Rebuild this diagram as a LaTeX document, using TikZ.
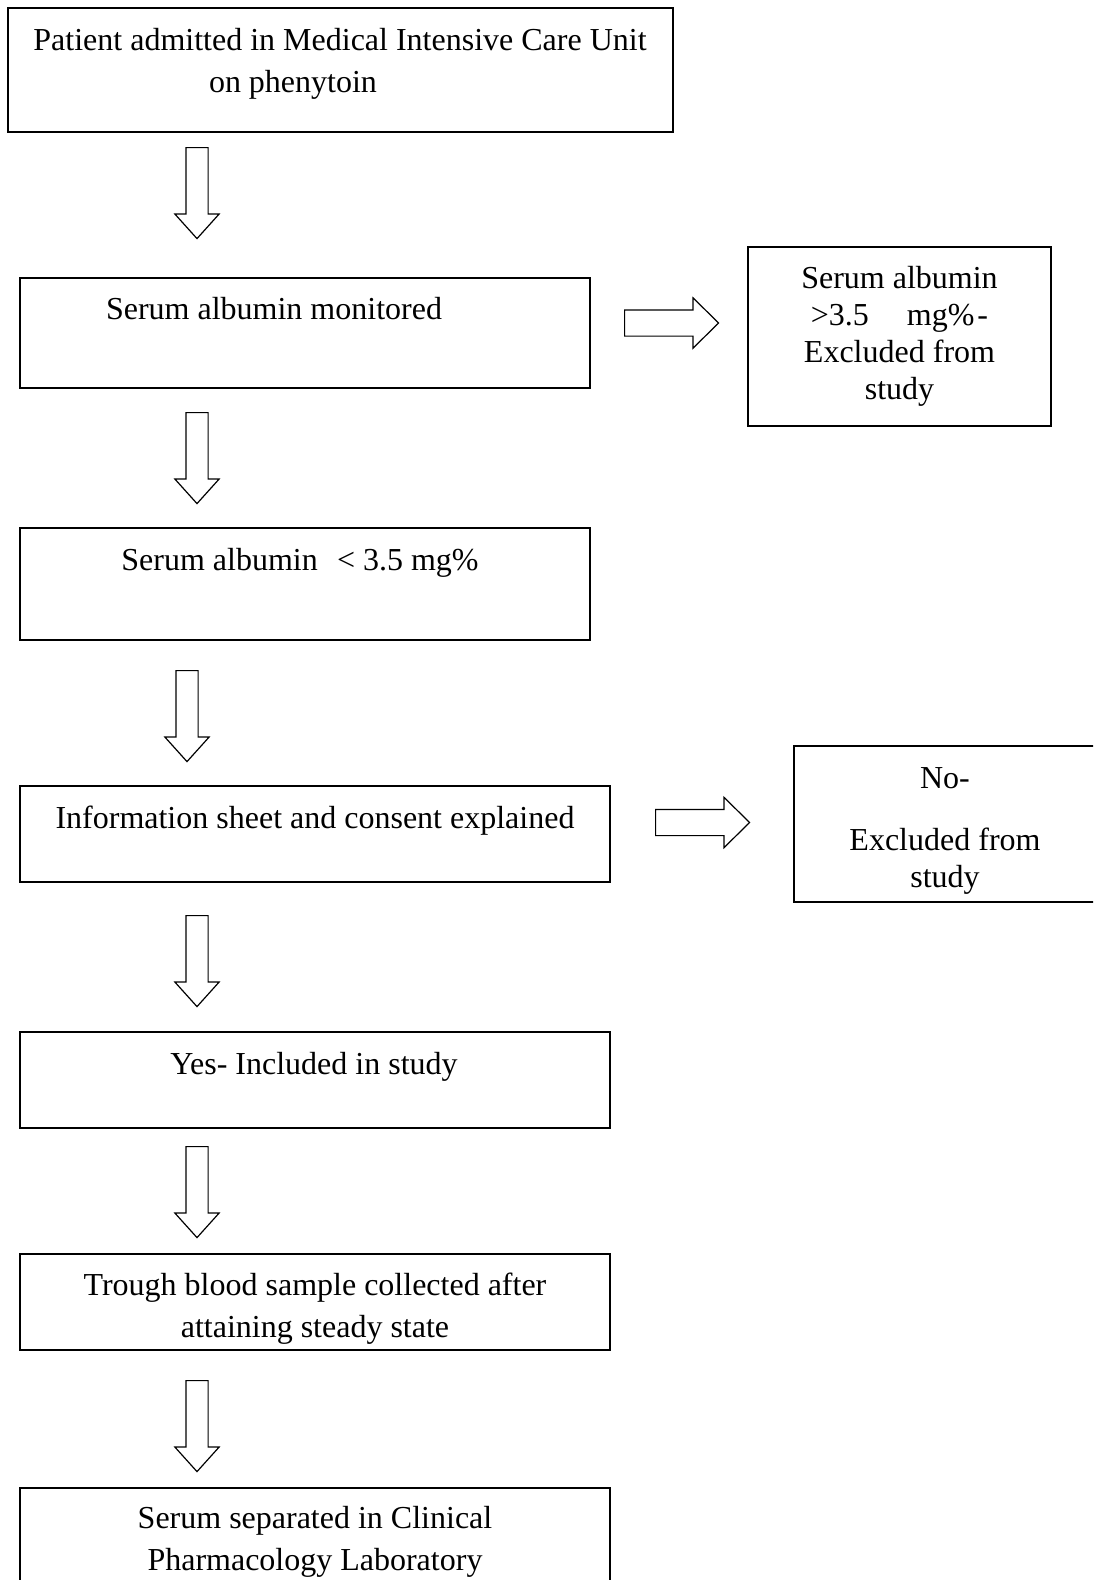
\documentclass[tikz,border=0pt]{standalone}
\usepackage{fontspec}
\setmainfont{Liberation Serif}
\usetikzlibrary{shapes.arrows}

\tikzset{
  stage/.style={draw, line width=1.5pt, rectangle, inner sep=0pt},
  caption/.style={font=\fontsize{32}{42}\selectfont, align=center, inner sep=0pt, anchor=base},
  tight/.style={font=\fontsize{32}{37}\selectfont},
  downarrow/.style={draw, line width=1.2pt, single arrow, shape border rotate=270, inner sep=10.5pt,
    minimum height=91pt, single arrow head extend=11pt, single arrow tip angle=84, anchor=tail},
  sidearrow/.style={draw, line width=1.2pt, single arrow, inner sep=12.5pt,
    minimum height=94pt, single arrow head extend=12pt, single arrow tip angle=89, anchor=tail},
}

\begin{document}
\begin{tikzpicture}[x=1pt,y=-1pt]
  \useasboundingbox (0,0) rectangle (1093,1580);
  \clip (0,0) rectangle (1093,1580);
  % boxes
  \node[stage, minimum width=665pt, minimum height=124pt] (admit) at (340.5,70) {};
  \node[stage, minimum width=570pt, minimum height=110pt] (monitor) at (305,333) {};
  \node[stage, minimum width=303pt, minimum height=179pt] (high) at (899.5,336.5) {};
  \node[stage, minimum width=570pt, minimum height=112pt] (low) at (305,584) {};
  \node[stage, minimum width=590pt, minimum height=96pt] (consent) at (315,834) {};
  \node[stage, minimum width=303pt, minimum height=156pt] (refuse) at (945.5,824) {};
  \node[stage, minimum width=590pt, minimum height=96pt] (include) at (315,1080) {};
  \node[stage, minimum width=590pt, minimum height=96pt] (sample) at (315,1302) {};
  \node[stage, minimum width=590pt, minimum height=112pt] (serum) at (315,1544) {};
  % texts (base = baseline of the last line)
  \node[caption] (admit-t) at (340,92) {Patient admitted in Medical Intensive Care Unit\\on phenytoin\hspace*{94pt}};
  \node[caption] (monitor-t) at (274,319) {Serum albumin monitored};
  \node[caption, tight] (high-t) at (899.5,399) {Serum albumin\\>3.5\hspace{38pt}mg\%\kern3pt-\\Excluded from\\study};
  \node[caption] (low-t) at (300,570) {Serum albumin\hspace{0.6em}< 3.5 mg\%};
  \node[caption] (consent-t) at (315,828) {Information sheet and consent explained};
  \node[caption, tight] (refuse-t) at (945,887) {No-\\[25pt]Excluded from\\study};
  \node[caption] (include-t) at (314,1074) {Yes- Included in study};
  \node[caption] (sample-t) at (315,1337) {Trough blood sample collected after\\attaining steady state};
  \node[caption] (serum-t) at (315,1570) {Serum separated in Clinical\\Pharmacology Laboratory};
  % arrows
  \node[downarrow] (arrow1) at (197,147) {};
  \node[downarrow] (arrow2) at (197,412) {};
  \node[downarrow] (arrow3) at (187,670) {};
  \node[downarrow] (arrow4) at (197,915) {};
  \node[downarrow] (arrow5) at (197,1146) {};
  \node[downarrow] (arrow6) at (197,1380) {};
  \node[sidearrow] (side1) at (624,323) {};
  \node[sidearrow] (side2) at (655,822.5) {};
\end{tikzpicture}
\end{document}
